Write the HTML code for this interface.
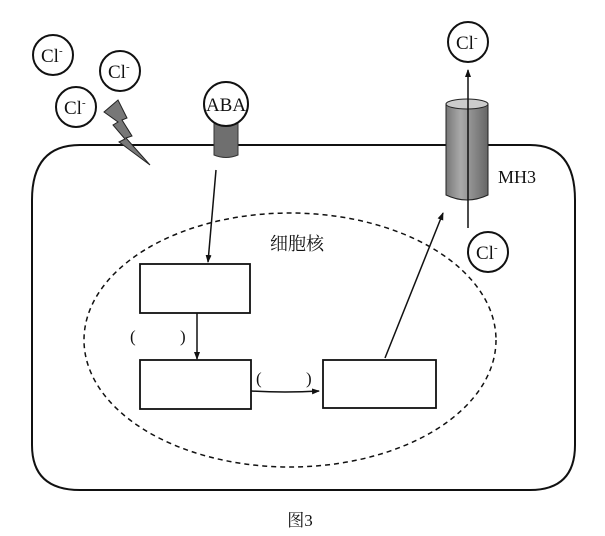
<!DOCTYPE html>
<html><head><meta charset="utf-8"><style>
body{margin:0;background:#fff;}
svg{display:block;}
text{font-family:"Liberation Serif","Noto Serif CJK SC",serif;fill:#111;}
</style></head><body>
<svg width="605" height="536" viewBox="0 0 605 536" xmlns="http://www.w3.org/2000/svg">
<defs>
<marker id="ar" markerWidth="8" markerHeight="8" refX="7" refY="4" orient="auto" markerUnits="userSpaceOnUse">
<path d="M0,1 L8,4 L0,7 Z" fill="#111"/></marker>
<linearGradient id="cyl" x1="0" x2="1"><stop offset="0" stop-color="#777"/><stop offset="0.35" stop-color="#aaa"/><stop offset="1" stop-color="#666"/></linearGradient>
</defs>
<!-- cell -->
<path d="M80,145 L530,145 Q575,145 575,200 L575,445 Q575,490 530,490 L80,490 Q32,490 32,445 L32,200 Q32,145 80,145 Z" fill="none" stroke="#111" stroke-width="2"/>
<!-- nucleus -->
<ellipse cx="290" cy="340" rx="206" ry="127" fill="none" stroke="#111" stroke-width="1.5" stroke-dasharray="5,4"/>
<text x="297" y="250" font-size="18" text-anchor="middle" font-family="Noto Sans CJK SC,sans-serif">细胞核</text>
<!-- Cl circles -->
<g fill="#fff" stroke="#111" stroke-width="2">
<circle cx="53" cy="55" r="20"/><circle cx="120" cy="71" r="20"/><circle cx="76" cy="107" r="20"/>
<circle cx="468" cy="42" r="20"/><circle cx="488" cy="252" r="20"/>
</g>
<g font-size="19"><text x="41" y="62">Cl</text><text x="59" y="54" font-size="11">-</text>
<text x="108" y="78">Cl</text><text x="126" y="70" font-size="11">-</text>
<text x="64" y="114">Cl</text><text x="82" y="106" font-size="11">-</text>
<text x="456" y="49">Cl</text><text x="474" y="41" font-size="11">-</text>
<text x="476" y="259">Cl</text><text x="494" y="251" font-size="11">-</text></g>
<!-- lightning -->
<path d="M104,112 L118,100 L127,118 L122,120 L132,136 L126,138 L150,165 L119,142 L125,139 L113,125 L118,122 Z" fill="#777" stroke="#222" stroke-width="1"/>
<!-- ABA receptor -->
<path d="M214,122 L238,122 L238,155 Q226,160 214,155 Z" fill="#6f6f6f" stroke="#333"/>
<circle cx="226" cy="104" r="22" fill="#fff" stroke="#111" stroke-width="2"/>
<text x="226" y="111" font-size="19" text-anchor="middle">ABA</text>
<!-- MH3 -->
<path d="M446,104 L446,195 Q467,205 488,195 L488,104 Z" fill="url(#cyl)" stroke="#222"/>
<ellipse cx="467" cy="104" rx="21" ry="5" fill="#ccc" stroke="#222"/>
<text x="498" y="183" font-size="18">MH3</text>
<line x1="468" y1="228" x2="468" y2="70" stroke="#111" stroke-width="1.5" marker-end="url(#ar)"/>
<!-- boxes -->
<g fill="#fff" stroke="#111" stroke-width="1.8">
<rect x="140" y="264" width="110" height="49"/><rect x="140" y="360" width="111" height="49"/><rect x="323" y="360" width="113" height="48"/>
</g>
<g stroke="#111" stroke-width="1.5" fill="none">
<line x1="216" y1="170" x2="208" y2="262" marker-end="url(#ar)"/>
<line x1="197" y1="313" x2="197" y2="359" marker-end="url(#ar)"/>
<path d="M251,391 Q285,393 319,391" marker-end="url(#ar)"/>
<line x1="385" y1="358" x2="443" y2="213" marker-end="url(#ar)"/>
</g>
<g font-size="17"><text x="130" y="342">(</text><text x="180" y="342">)</text>
<text x="256" y="384">(</text><text x="306" y="384">)</text></g>
<text x="300" y="526" font-size="17" text-anchor="middle" font-family="Noto Sans CJK SC,sans-serif">图3</text>
</svg>
</body></html>
